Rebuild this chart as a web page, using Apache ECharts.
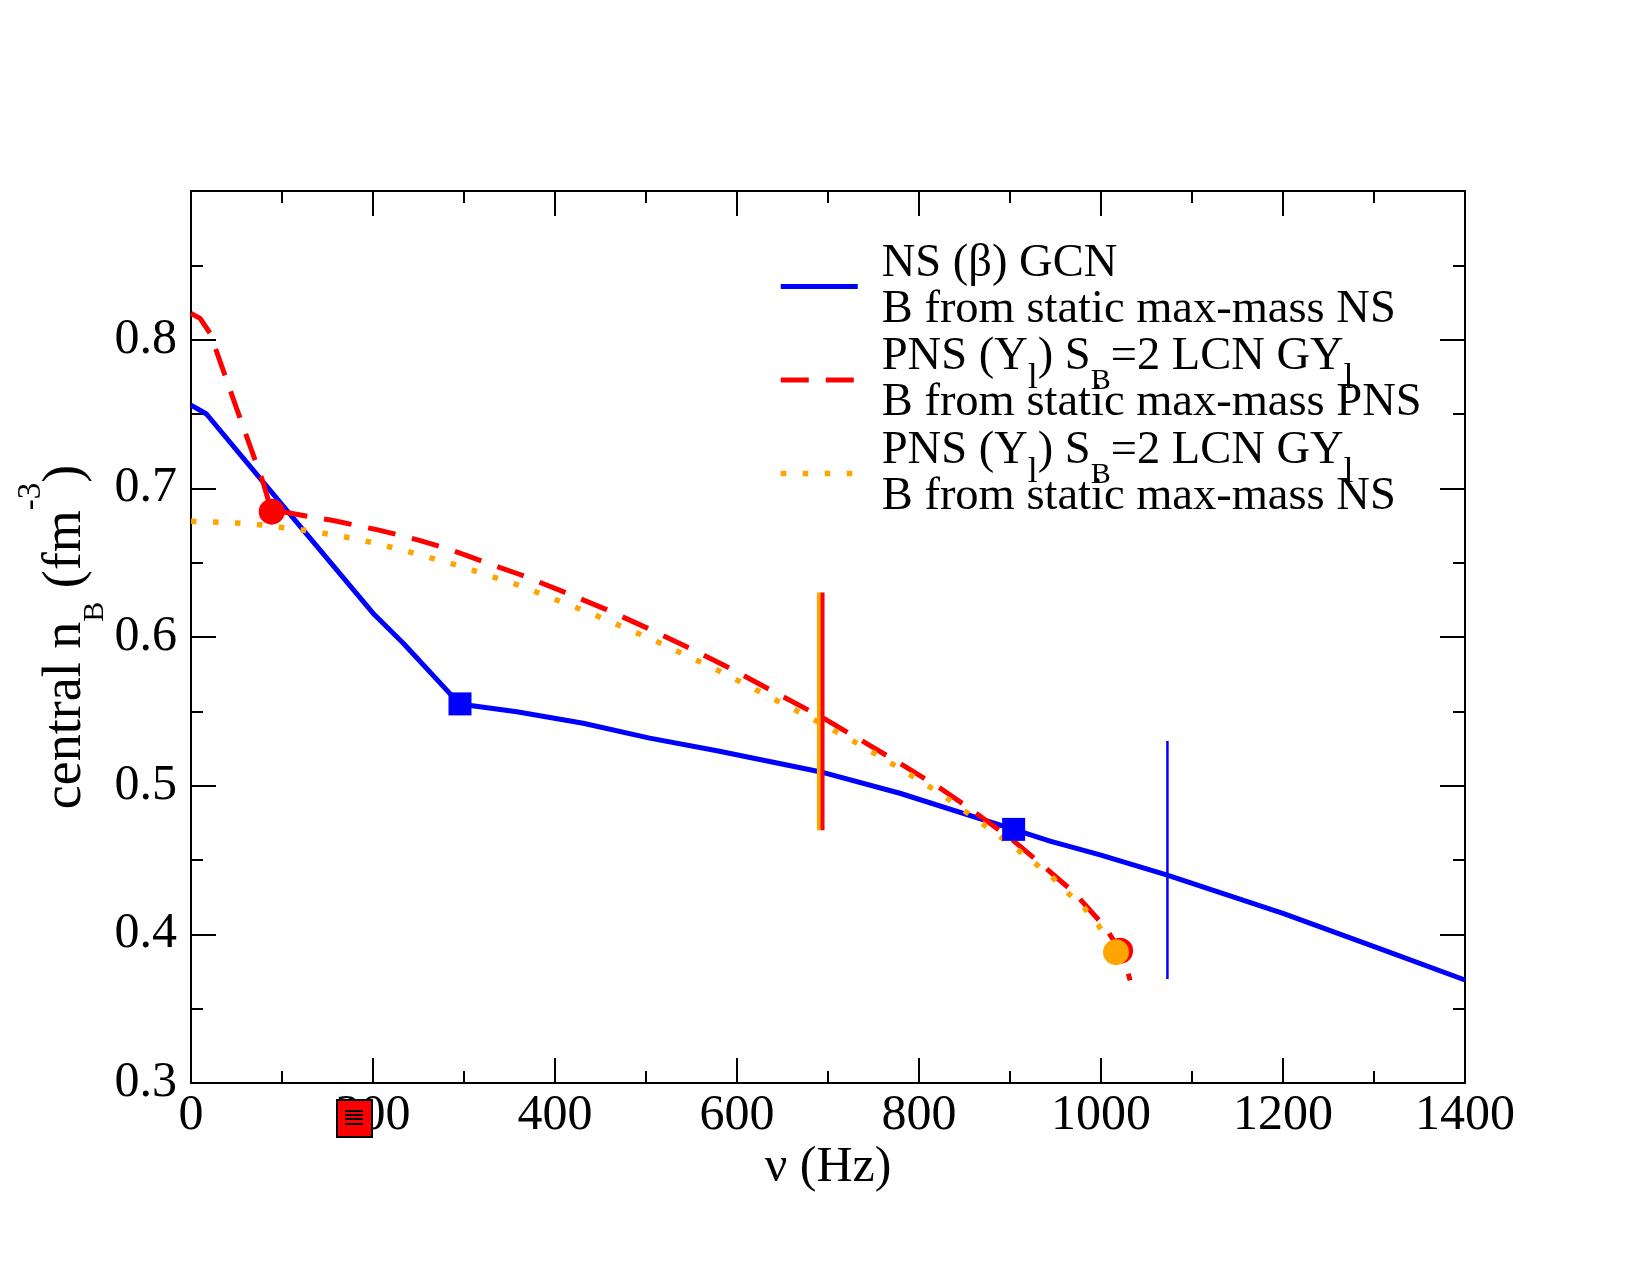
<!DOCTYPE html>
<html>
<head>
<meta charset="utf-8">
<title>central nB vs rotation frequency</title>
<script src="https://cdn.jsdelivr.net/npm/echarts@6/dist/echarts.min.js"></script>
<style>
  html, body { margin: 0; background: #fff; }
  #chart { width: 1650px; height: 1275px; }
</style>
</head>
<body>
<div id="chart"></div>
<script>
// NS (beta) GCN, B from static max-mass NS
const nsNu = [0, 17, 105, 200, 233, 295, 358, 431, 504, 578, 691, 779, 904, 944, 999, 1072, 1200, 1310, 1400];
const nsNb = [0.756, 0.750, 0.6854, 0.616, 0.596, 0.555, 0.5497, 0.542, 0.532, 0.5235, 0.5094, 0.4949, 0.4706, 0.4627, 0.4535, 0.440, 0.4141, 0.3895, 0.3693];

// PNS (Yl) SB=2 LCN GYl, B from static max-mass PNS
const pnsNu = [0, 10, 21, 50, 79.5, 88.7, 105, 134, 155, 184, 204, 233, 252, 281, 301, 329, 363, 409, 456, 502, 548, 592, 647, 692, 735, 779, 823, 854, 903, 934, 971, 1005, 1021, 1027, 1032];
const pnsNb = [0.8177, 0.8143, 0.8043, 0.754, 0.7034, 0.6843, 0.6838, 0.6805, 0.6785, 0.6748, 0.6722, 0.668, 0.6648, 0.6595, 0.6552, 0.649, 0.6417, 0.6305, 0.6186, 0.6058, 0.5924, 0.579, 0.561, 0.5464, 0.531, 0.515, 0.4984, 0.4854, 0.4634, 0.4473, 0.4278, 0.4045, 0.389, 0.380, 0.369];

// PNS (Yl) SB=2 LCN GYl, B from static max-mass NS
const pns2Nu = [0, 25, 50, 79, 103, 129, 153, 178, 203, 228, 252, 276, 300, 325, 349, 372, 442, 512, 580, 625, 692, 735, 779, 823, 863, 884, 904, 925, 944, 962, 981, 997, 1016.5];
const pns2Nb = [0.6778, 0.6774, 0.6767, 0.6753, 0.6735, 0.6715, 0.669, 0.6664, 0.663, 0.6592, 0.6551, 0.6511, 0.6469, 0.6417, 0.6372, 0.632, 0.6153, 0.5969, 0.5773, 0.5632, 0.542, 0.5275, 0.5117, 0.4949, 0.4774, 0.468, 0.459, 0.4489, 0.440, 0.4287, 0.4182, 0.4063, 0.388];

// markers
const nsSquares = [[295.6, 0.555], [904, 0.4706]];
const pnsCircles = [[88.7, 0.6843], [1021, 0.389]];
const pns2Circles = [[1016.5, 0.388]];

// vertical bars [nu, nbLow, nbHigh]
const pns2Bar = [690, 0.47, 0.63];
const pnsBar = [694, 0.47, 0.63];
const nsBar = [1073, 0.37, 0.53];

const FONT = '"Liberation Serif", "DejaVu Serif", serif';

function zip(xs, ys) { return xs.map((x, i) => [x, ys[i]]); }
function bar(b) { return [[b[0], b[1]], [b[0], b[2]]]; }

const tickStyle = { color: '#000', width: 2 };

function frameAxis(extra) {
  return Object.assign({
    type: 'value',
    axisLine: { show: true, onZero: false, lineStyle: tickStyle },
    axisTick: { show: true, inside: true, length: 25, lineStyle: tickStyle },
    minorTick: { show: true, splitNumber: 2, length: 12, lineStyle: tickStyle },
    splitLine: { show: false },
    minorSplitLine: { show: false }
  }, extra);
}

const legendText = {
  'NS (β) GCN': 'NS (β) GCN\nB from static max-mass NS',
  'PNS A': 'PNS (Y{l|l}) S{b|B}=2 LCN GY{l|l}\nB from static max-mass PNS',
  'PNS B': 'PNS (Y{l|l}) S{b|B}=2 LCN GY{l|l}\nB from static max-mass NS'
};

const chart = echarts.init(document.getElementById('chart'));

const option = {
  animation: false,
  backgroundColor: '#fff',
  grid: { left: 191, right: 185, top: 191, bottom: 192, outerBoundsMode: 'none', containLabel: false },
  xAxis: [
    frameAxis({
      min: 0, max: 1400, interval: 200, position: 'bottom',
      axisLabel: { fontFamily: FONT, fontSize: 50, color: '#000', margin: 8, formatter: v => String(v) },
      name: 'ν (Hz)', nameLocation: 'middle', nameGap: 60, nameMoveOverlap: false,
      nameTextStyle: { fontFamily: FONT, fontSize: 50, color: '#000' }
    }),
    frameAxis({ min: 0, max: 1400, interval: 200, position: 'top', axisLabel: { show: false } })
  ],
  yAxis: [
    frameAxis({
      min: 0.3, max: 0.9, interval: 0.1, position: 'left',
      axisLabel: { fontFamily: FONT, fontSize: 50, color: '#000', margin: 14, showMaxLabel: false },
      name: 'central n{sb|B} (fm{sp|-3})', nameLocation: 'middle', nameRotate: 90, nameGap: 97,
      nameMoveOverlap: false,
      nameTextStyle: {
        fontFamily: FONT, fontSize: 54, color: '#000', lineHeight: 56,
        rich: {
          sb: { fontFamily: FONT, fontSize: 30, color: '#000', padding: [58, 0, 0, 0], lineHeight: 10 },
          sp: { fontFamily: FONT, fontSize: 33, color: '#000', padding: [0, 0, 70, 0], lineHeight: 10 }
        }
      }
    }),
    frameAxis({ min: 0.3, max: 0.9, interval: 0.1, position: 'right', axisLabel: { show: false } })
  ],
  legend: {
    orient: 'vertical',
    left: 778, top: 240,
    padding: 0, itemGap: -16,
    itemWidth: 77, itemHeight: 14,
    data: ['NS (β) GCN', 'PNS A', 'PNS B'],
    formatter: name => legendText[name],
    itemStyle: { opacity: 0 },
    lineStyle: { width: 'inherit', type: 'inherit' },
    textStyle: {
      fontFamily: FONT, fontSize: 46.5, color: '#000', lineHeight: 46,
      padding: [0, 0, 0, 19],
      rich: {
        l: { fontFamily: FONT, fontSize: 36, color: '#000', padding: [44, 0, 0, 0], lineHeight: 10 },
        b: { fontFamily: FONT, fontSize: 30, color: '#000', padding: [49, 0, 0, 0], lineHeight: 10 }
      }
    }
  },
  graphic: [{
    type: 'group',
    children: [
      { type: 'rect', z: 100, shape: { x: 337, y: 1100, width: 35, height: 37 }, style: { fill: '#ff0000', stroke: '#000', lineWidth: 2 } },
      { type: 'line', z: 101, shape: { x1: 345, y1: 1111, x2: 363, y2: 1111 }, style: { stroke: '#000', lineWidth: 2 } },
      { type: 'line', z: 101, shape: { x1: 345, y1: 1115, x2: 363, y2: 1115 }, style: { stroke: '#000', lineWidth: 2 } },
      { type: 'line', z: 101, shape: { x1: 345, y1: 1119, x2: 363, y2: 1119 }, style: { stroke: '#000', lineWidth: 2 } },
      { type: 'line', z: 101, shape: { x1: 345, y1: 1124, x2: 363, y2: 1124 }, style: { stroke: '#000', lineWidth: 2 } }
    ]
  }],
  series: [
    {
      name: 'NS (β) GCN', type: 'line', data: zip(nsNu, nsNb), symbol: 'none',
      itemStyle: { color: '#0000ff' },
      lineStyle: { color: '#0000ff', width: 5 }, z: 2
    },
    {
      name: 'PNS A', type: 'line', data: zip(pnsNu, pnsNb), symbol: 'none',
      itemStyle: { color: '#ff0000' },
      lineStyle: { color: '#ff0000', width: 5, type: [28, 17], cap: 'butt' }, z: 3
    },
    {
      name: 'PNS B', type: 'line', data: zip(pns2Nu, pns2Nb), symbol: 'none',
      itemStyle: { color: '#ffa500' },
      lineStyle: { color: '#ffa500', width: 5.5, type: [5.5, 16.5], cap: 'butt' }, z: 4
    },
    {
      name: 'bar PNS B', type: 'line', data: bar(pns2Bar), symbol: 'none',
      lineStyle: { color: '#ffa500', width: 4 }, z: 5
    },
    {
      name: 'bar PNS A', type: 'line', data: bar(pnsBar), symbol: 'none',
      lineStyle: { color: '#ff0000', width: 4 }, z: 5
    },
    {
      name: 'bar NS', type: 'line', data: bar(nsBar), symbol: 'none',
      lineStyle: { color: '#0000ff', width: 2.5 }, z: 5
    },
    {
      name: 'sq NS', type: 'scatter', data: nsSquares, symbol: 'rect', symbolSize: 23,
      itemStyle: { color: '#0000ff', opacity: 1 }, z: 6
    },
    {
      name: 'dot PNS A', type: 'scatter', data: pnsCircles, symbol: 'circle', symbolSize: 26,
      itemStyle: { color: '#ff0000', opacity: 1 }, z: 6
    },
    {
      name: 'dot PNS B', type: 'scatter', data: pns2Circles, symbol: 'circle', symbolSize: 26,
      itemStyle: { color: '#ffa500', opacity: 1 }, z: 7
    }
  ]
};

chart.setOption(option);
</script>
</body>
</html>
